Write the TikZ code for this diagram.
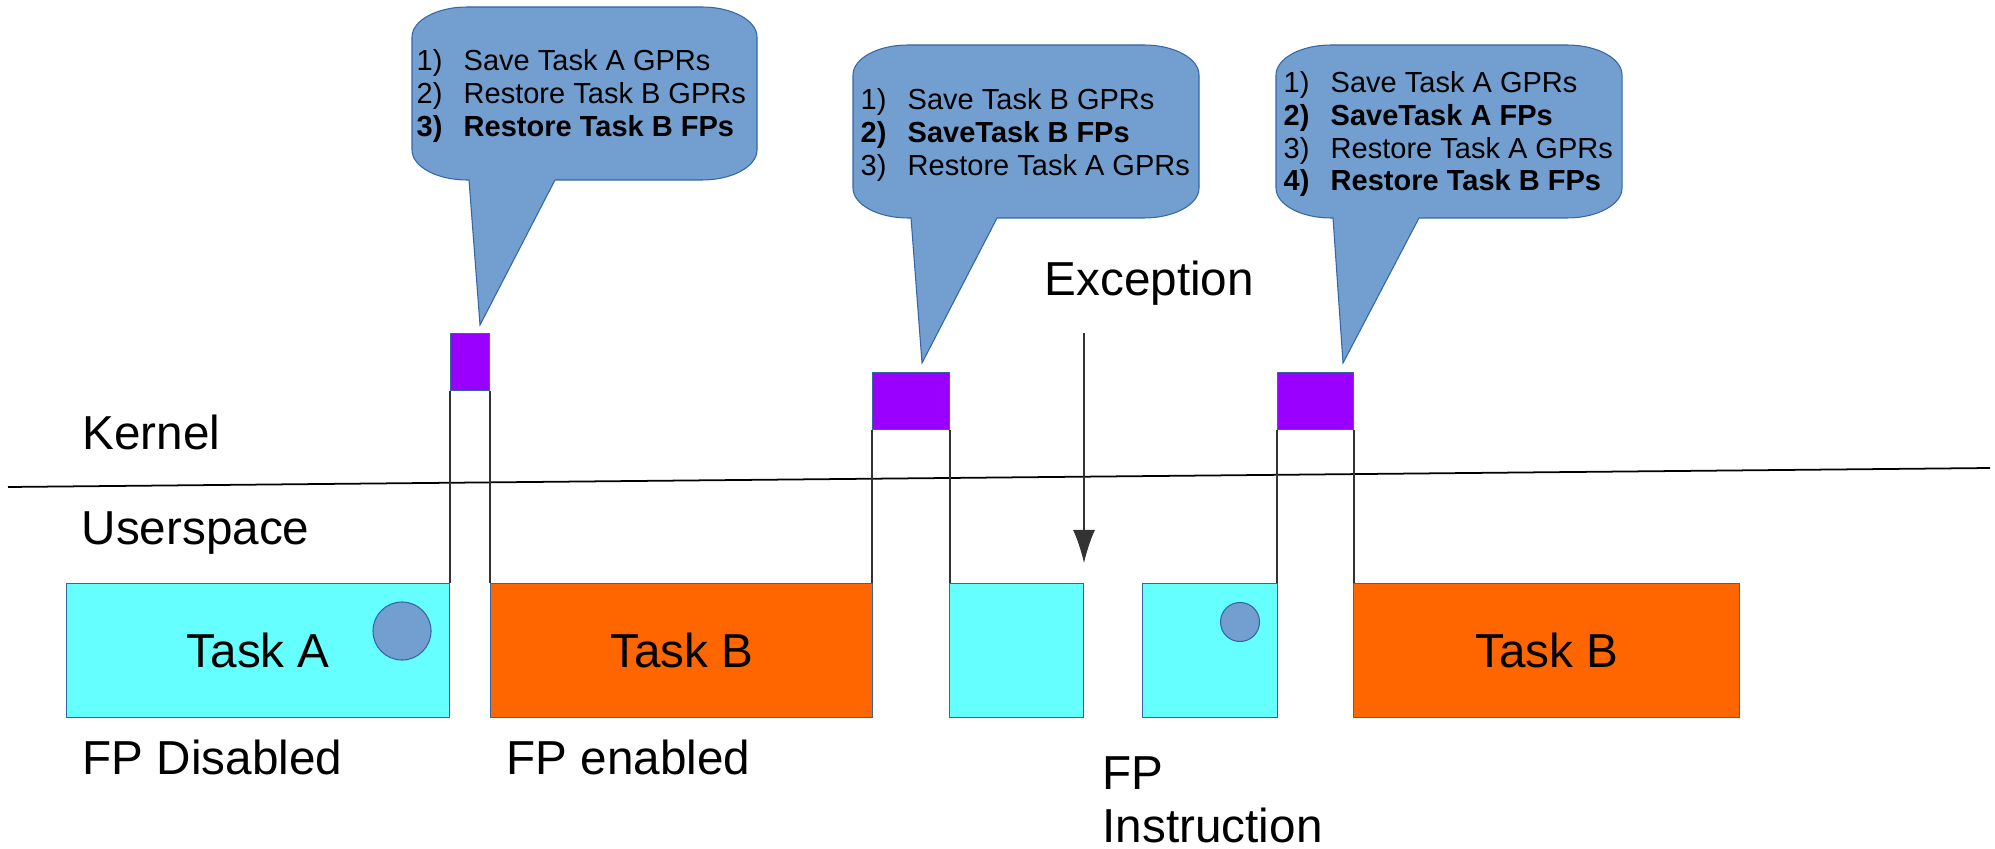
\documentclass[tikz,border=0pt]{standalone}
\usepackage{fontspec}
\setmainfont{Liberation Sans}
\usetikzlibrary{arrows.meta, positioning}
\definecolor{bubblefill}{HTML}{729FCF}
\definecolor{bubbleline}{HTML}{3465A4}
\definecolor{taskcyan}{HTML}{66FFFF}
\definecolor{taskorange}{HTML}{FF6600}
\definecolor{kernelpurple}{HTML}{9900FF}

% speech bubble: x1,y1,x2,y2, tail base left/right, tail tip
\newcommand{\bubble}[8]{%
\filldraw[bubble](#1,#2+30) .. controls (#1,#2+13.5) and (#1+24.75,#2) .. (#1+55,#2)
 -- (#3-55,#2) .. controls (#3-24.75,#2) and (#3,#2+13.5) .. (#3,#2+30)
 -- (#3,#4-30) .. controls (#3,#4-13.5) and (#3-24.75,#4) .. (#3-55,#4)
 -- (#6,#4) -- (#7,#8) -- (#5,#4)
 -- (#1+55,#4) .. controls (#1+24.75,#4) and (#1,#4-13.5) .. (#1,#4-30) -- cycle;}

\begin{document}
\begin{tikzpicture}[x=0.01cm, y=-0.01cm, >=latex,
  bigtext/.style={inner sep=0, anchor=base west, font=\fontsize{13.55}{15.1}\selectfont},
  steps/.style={inner sep=0, anchor=base west, font=\fontsize{8.25}{9.25}\selectfont},
  bubble/.style={fill=bubblefill, draw=bubbleline, line width=0.3pt},
  task/.style={draw=bubbleline, line width=0.3pt, anchor=north west, inner sep=0,
    minimum height=1.34cm, font=\fontsize{13.55}{15.1}\selectfont},
  kblock/.style={fill=kernelpurple, draw=bubbleline, line width=0.3pt, anchor=north west,
    inner sep=0, minimum height=0.57cm},
  fpreg/.style={circle, fill=bubblefill, draw=bubbleline, line width=0.3pt, inner sep=0},
  wire/.style={line width=0.4pt, black!80}]
\useasboundingbox (0,0) rectangle (1995,849);

\bubble{412}{7}{757}{180}{469}{555}{480}{325}
\bubble{853}{45}{1199}{218}{911}{997}{922}{363}
\bubble{1276}{45}{1622}{218}{1333}{1419}{1343}{363}

\node[steps] (steps1) at (416,71) {\begin{tabular}[t]{@{}p{4.7mm}@{}l@{}}
1) & Save Task A GPRs\\
2) & Restore Task B GPRs\\
\textbf{3)} & \textbf{Restore Task B FPs}\end{tabular}};
\node[steps] (steps2) at (860,110) {\begin{tabular}[t]{@{}p{4.7mm}@{}l@{}}
1) & Save Task B GPRs\\
\textbf{2)} & \textbf{SaveTask B FPs}\\
3) & Restore Task A GPRs\end{tabular}};
\node[steps] (steps3) at (1283,93) {\begin{tabular}[t]{@{}p{4.7mm}@{}l@{}}
1) & Save Task A GPRs\\
\textbf{2)} & \textbf{SaveTask A FPs}\\
3) & Restore Task A GPRs\\
\textbf{4)} & \textbf{Restore Task B FPs}\end{tabular}};

\draw[line width=0.5pt] (8,487)--(1990,468);
\node[bigtext] (kernel) at (82,449) {Kernel};
\node[bigtext] (user) at (81,544) {Userspace};
\node[bigtext] (exc) at (1044,295) {Exception};

\node[task, fill=taskcyan, minimum width=3.83cm] (taskA) at (66,583) {Task A};
\node[task, fill=taskorange, minimum width=3.82cm] (taskB) at (490,583) {Task B};
\node[task, fill=taskcyan, minimum width=1.34cm] (taskAa) at (949,583) {};
\node[task, fill=taskcyan, minimum width=1.35cm] (taskAb) at (1142,583) {};
\node[task, fill=taskorange, minimum width=3.86cm] (taskBb) at (1353,583) {Task B};
\node[fpreg, minimum size=0.58cm] (regA) at (402,631) {};
\node[fpreg, minimum size=0.39cm] (regAb) at (1240,622) {};

\node[kblock, minimum width=0.39cm] (sw1) at (450,333) {};
\node[kblock, minimum width=0.77cm] (sw2) at (872,372) {};
\node[kblock, minimum width=0.76cm] (sw3) at (1277,372) {};
\draw[wire] (sw1.south west)--(sw1.south west |- taskA.north);
\draw[wire] (sw1.south east)--(sw1.south east |- taskB.north);
\draw[wire] (sw2.south west)--(sw2.south west |- taskB.north);
\draw[wire] (sw2.south east)--(sw2.south east |- taskAa.north);
\draw[wire] (sw3.south west)--(sw3.south west |- taskAb.north);
\draw[wire] (sw3.south east)--(sw3.south east |- taskBb.north);

\coordinate (exctop) at (1084,333);
\coordinate (exctip) at (1084,563);
\draw[wire, -{Latex[length=3.3mm,width=2.2mm]}] (exctop)--(exctip);

\node[bigtext] (fpoff) at (82,774) {FP Disabled};
\node[bigtext] (fpon) at (506,774) {FP enabled};
\node[bigtext] (fpinstr) at (1102,789) {\begin{tabular}[t]{@{}l@{}}FP\\Instruction\end{tabular}};
\end{tikzpicture}
\end{document}
